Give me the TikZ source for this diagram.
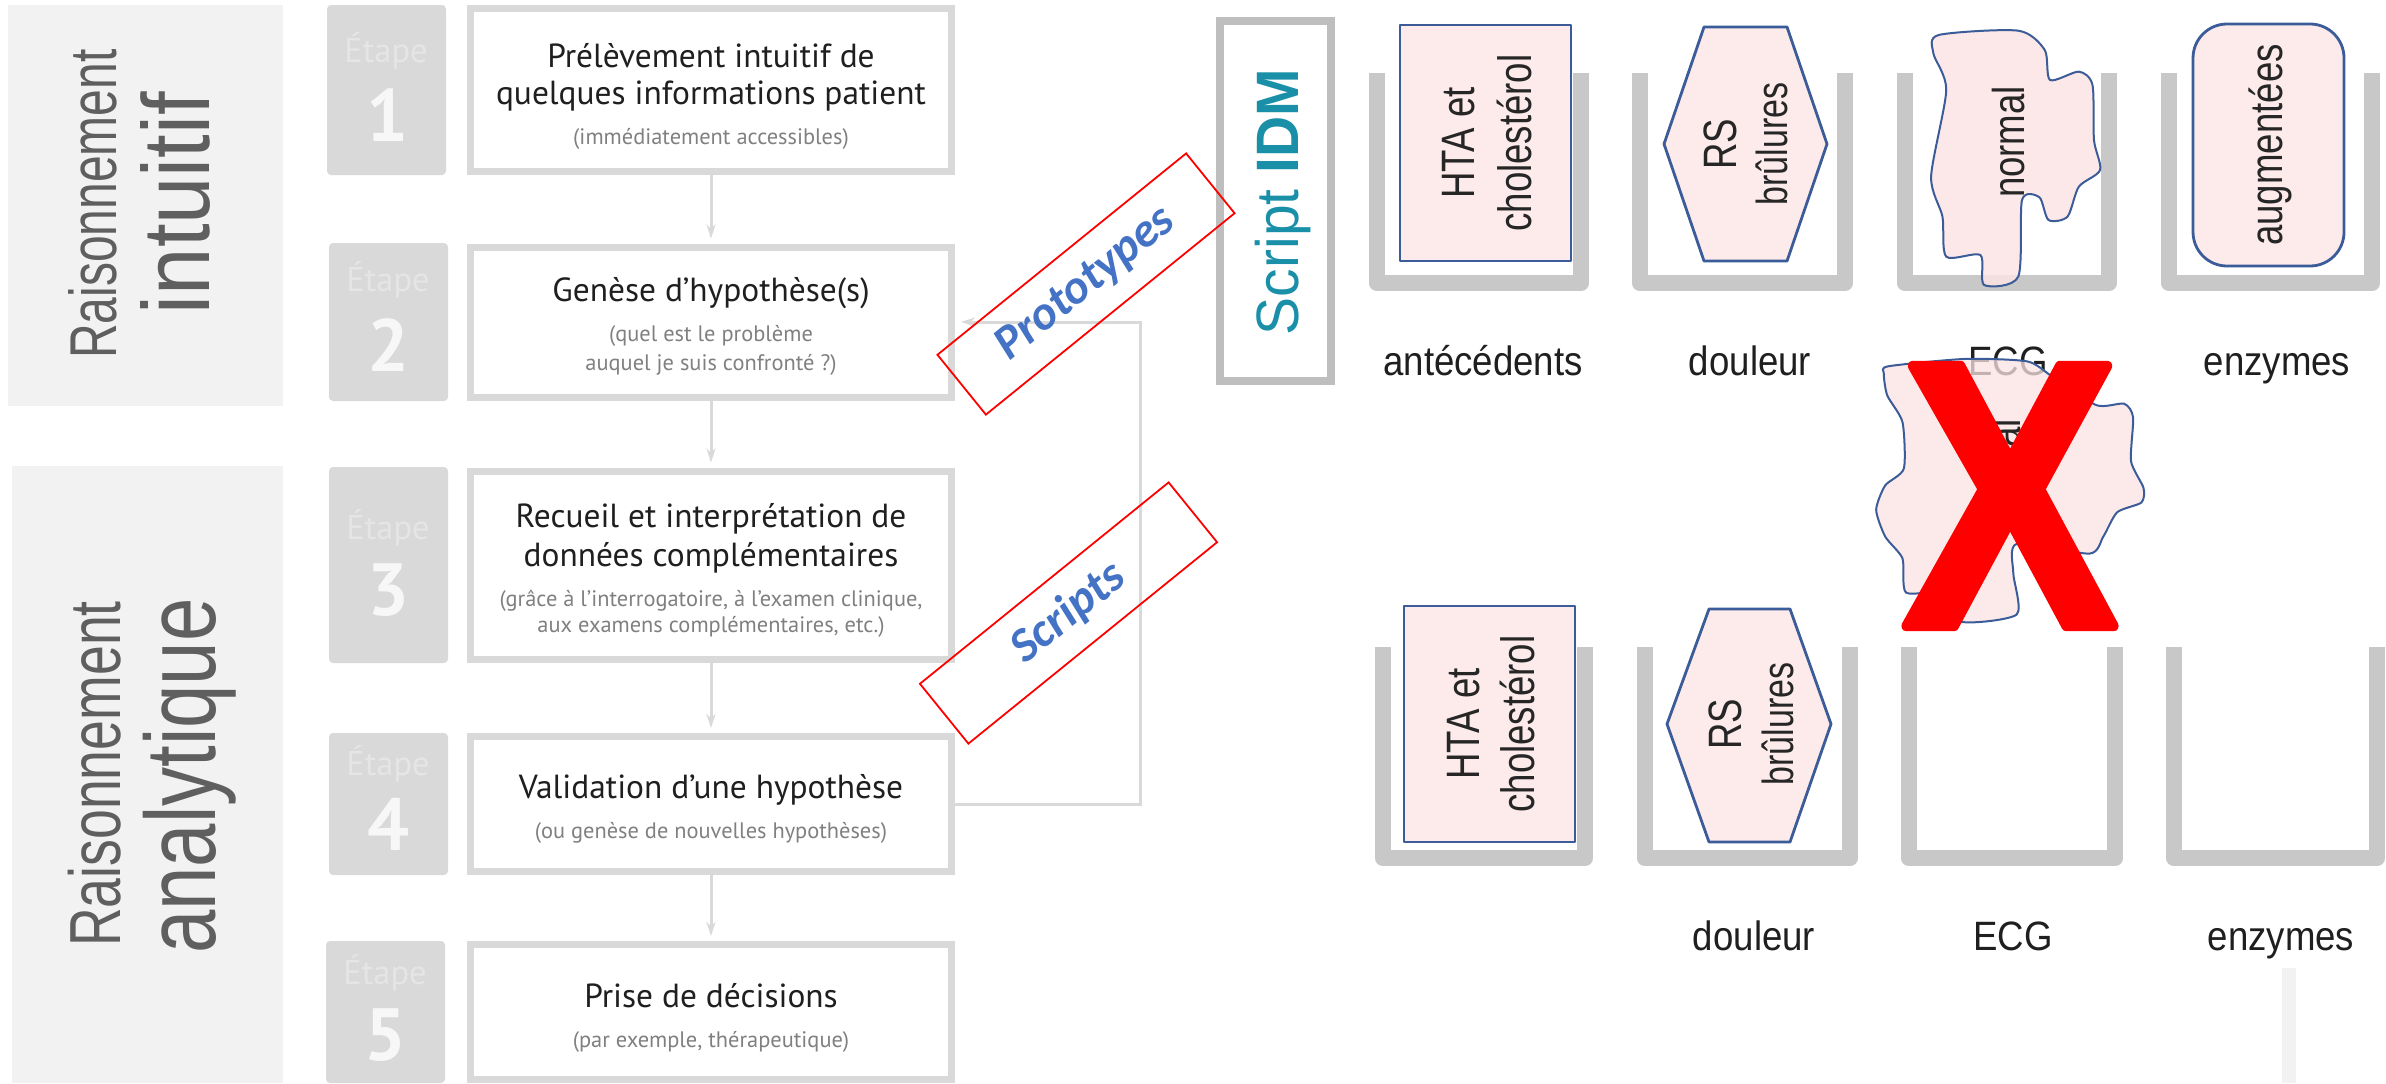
\documentclass[tikz,border=0pt]{standalone}
\usepackage{graphicx}
\usepackage{fontspec}
\setmainfont{Liberation Sans}
\newfontfamily\ptf{PT Sans}
\newfontfamily\carl{Carlito}
\newcommand{\sy}[2]{\scalebox{1}[#1]{#2}}
\definecolor{boxgray}{HTML}{D9D9D9}
\definecolor{binGray}{HTML}{C8C8C8}
\definecolor{cardfill}{HTML}{FDEBEB}
\definecolor{blobfill}{HTML}{FCE4E4}
\definecolor{cardline}{HTML}{3B5C98}
\definecolor{teal1}{HTML}{1A8FA8}
\definecolor{panel}{HTML}{F2F2F2}
\definecolor{lightt}{HTML}{5F5F5F}
\definecolor{blue1}{HTML}{4472C4}
\usetikzlibrary{arrows.meta}
\tikzset{
  px/.style={x=0.5pt,y=-0.5pt},
  panelbox/.style={fill=panel,draw=none},
  badge/.style={fill=boxgray,draw=none,rounded corners=2pt},
  stepbox/.style={shape=rectangle,draw=boxgray,fill=white,line width=3.5pt,inner sep=0pt,minimum width=240.5pt},
  etape/.style={anchor=base,inner sep=0pt,text=white!90!black,font=\ptf\fontsize{17.2}{17.2}\selectfont},
  digit/.style={anchor=base,inner sep=0pt,text=white!97!black,font=\ptf\bfseries\fontsize{37}{37}\selectfont},
  mainline/.style={anchor=base,inner sep=0pt,text=black!88,font=\ptf\fontsize{16.7}{16.7}\selectfont},
  subline/.style={anchor=base,inner sep=0pt,text=black!50,font=\ptf\fontsize{11.2}{11.2}\selectfont},
  conn/.style={draw=boxgray,line width=1.5pt,-{Stealth[length=7pt,width=4.5pt]},shorten >=2.5pt},
  redbox/.style={shape=rectangle,draw=red,line width=0.9pt,rotate=39,inner sep=0pt,minimum width=160pt,minimum height=38.5pt,text=blue1,font=\carl\bfseries\itshape\fontsize{24}{24}\selectfont},
  bin/.style={draw=binGray,line width=8.3pt,line join=round},
  card/.style={draw=cardline,fill=cardfill,line width=1.4pt,line join=round},
  blob/.style={draw=cardline,fill=blobfill,fill opacity=0.75,line width=1pt},
  vlab/.style={anchor=base,rotate=90,inner sep=0pt,text=black!85,font=\fontsize{18.3}{18.3}\selectfont},
  hlab/.style={anchor=base,inner sep=0pt,text=black!88,font=\fontsize{18.3}{18.3}\selectfont},
  sidet/.style={anchor=base,rotate=90,inner sep=0pt,text=lightt},
}
\begin{document}
\begin{tikzpicture}[px]
\useasboundingbox (0,0) rectangle (2386,1083);
\fill[white] (0,0) rectangle (2386,1083);
% side panels
\fill[panelbox] (8,5) rectangle (283,406);
\fill[panelbox] (12,466) rectangle (283,1083);
\node[sidet,font=\fontsize{24}{24}\selectfont] (raisA) at (116,204) {\sy{1.38}{Raisonnement}};
\node[sidet,font=\fontsize{42.5}{42.5}\selectfont] (intu) at (209,203) {\sy{1.12}{intuitif}};
\node[sidet,font=\fontsize{26.8}{26.8}\selectfont] (raisB) at (120,774) {\sy{1.35}{Raisonnement}};
\node[sidet,font=\fontsize{39}{39}\selectfont] (analy) at (215,776) {\sy{1.28}{analytique}};
% badges
\fill[badge] (327,5) rectangle (446,175);
\fill[badge] (329,243) rectangle (448,401);
\fill[badge] (329,467) rectangle (448,663);
\fill[badge] (329,733) rectangle (448,875);
\fill[badge] (326,941) rectangle (445,1083);
\node[etape] (e1) at (386,62) {Étape};
\node[digit] (d1) at (387,141) {1};
\node[etape] (e2) at (388,291) {Étape};
\node[digit] (d2) at (388,371) {2};
\node[etape] (e3) at (388,539) {Étape};
\node[digit] (d3) at (388,615) {3};
\node[etape] (e4) at (388,775) {Étape};
\node[digit] (d4) at (388,850) {4};
\node[etape] (e5) at (385,984) {Étape};
\node[digit] (d5) at (385,1060) {5};
% step boxes
\node[stepbox,minimum height=81.5pt] (b1) at (711,90) {};
\node[stepbox,minimum height=75pt] (b2) at (711,322) {};
\node[stepbox,minimum height=94pt] (b3) at (711,565) {};
\node[stepbox,minimum height=67.5pt] (b4) at (711,804) {};
\node[stepbox,minimum height=67.5pt] (b5) at (711,1012) {};
\draw[conn] (b1) -- (b2);
\draw[conn] (b2) -- (b3);
\draw[conn] (b3) -- (b4);
\draw[conn] (b4) -- (b5);
\coordinate (fb) at (1140,322);
\draw[conn,shorten >=3pt] (b4.east) -| (fb) -- (b2.east);
% box texts
\node[mainline] (t1a) at (711,67) {Prélèvement intuitif de};
\node[mainline] (t1b) at (711,104) {quelques informations patient};
\node[subline] (t1c) at (711,144) {(immédiatement accessibles)};
\node[mainline] (t2a) at (711,301) {Genèse d’hypothèse(s)};
\node[subline] (t2b) at (711,341) {(quel est le problème};
\node[subline] (t2c) at (711,370) {auquel je suis confronté ?)};
\node[mainline] (t3a) at (711,527) {Recueil et interprétation de};
\node[mainline] (t3b) at (711,566) {données complémentaires};
\node[subline] (t3c) at (711,606) {(grâce à l’interrogatoire, à l’examen clinique,};
\node[subline] (t3d) at (711,632) {aux examens complémentaires, etc.)};
\node[mainline] (t4a) at (711,798) {Validation d’une hypothèse};
\node[subline] (t4b) at (711,838) {(ou genèse de nouvelles hypothèses)};
\node[mainline] (t5a) at (711,1007) {Prise de décisions};
\node[subline] (t5b) at (711,1047) {(par exemple, thérapeutique)};
% script box
\node[shape=rectangle,draw=binGray!95!black,fill=white,line width=4pt,inner sep=0pt,minimum width=55.5pt,minimum height=180pt] (sbox) at (1275.5,201) {};
\node[anchor=base,rotate=90,inner sep=0pt,text=teal1,font=\fontsize{28.5}{28.5}\selectfont] (stitle) at (1298,202) {\sy{1.05}{Script \textbf{IDM}}};
% red boxes
\node[redbox] (proto) at (1086,284) {Prototypes};
\node[redbox] (scr) at (1068.5,613) {Scripts};
% bins top
\draw[bin] (1377,73) -- (1377,283) -- (1581,283) -- (1581,73);
\draw[bin] (1640,73) -- (1640,283) -- (1845,283) -- (1845,73);
\draw[bin] (1905,73) -- (1905,283) -- (2109,283) -- (2109,73);
\draw[bin] (2169,73) -- (2169,283) -- (2372,283) -- (2372,73);
% bins bottom
\draw[bin] (1383,647) -- (1383,858) -- (1585,858) -- (1585,647);
\draw[bin] (1645,647) -- (1645,858) -- (1850,858) -- (1850,647);
\draw[bin] (1909,647) -- (1909,858) -- (2115,858) -- (2115,647);
\draw[bin] (2174,647) -- (2174,858) -- (2377,858) -- (2377,647);
% labels
\node[hlab] (l1) at (1483,375) {\sy{1.12}{antécédents}};
\node[hlab] (l2) at (1750,375) {\sy{1.12}{douleur}};
\node[hlab] (l3) at (2008,375) {\sy{1.12}{ECG}};
\node[hlab] (l4) at (2277,375) {\sy{1.12}{enzymes}};
\node[hlab] (m2) at (1754,950) {\sy{1.12}{douleur}};
\node[hlab] (m3) at (2013,950) {\sy{1.12}{ECG}};
\node[hlab] (m4) at (2281,950) {\sy{1.12}{enzymes}};
\fill[panel] (2282,968) rectangle (2296,1083);
% top cards
\draw[card] (1400,25) rectangle (1571,261);
\node[vlab] (c1a) at (1474,143) {\sy{1.28}{HTA et}};
\node[vlab] (c1b) at (1531,143) {\sy{1.28}{cholestérol}};
\draw[card] (1704,27) -- (1787,27) -- (1827,144) -- (1787,261) -- (1704,261) -- (1664,144) -- cycle;
\node[vlab] (c2a) at (1736,144) {\sy{1.28}{RS}};
\node[vlab,font=\fontsize{17}{17}\selectfont] (c2b) at (1787,144) {\sy{1.28}{brûlures}};
\begin{scope}[shift={(1200,0)},x=0.3788pt,y=-0.16667pt]
\draw[blob,fill opacity=0.85] plot[smooth cycle,tension=0.45] coordinates {(975,105)(1080,92)(1115,150)(1122,240)(1160,215)(1178,255)(1180,420)(1188,510)(1160,560)(1145,650)(1120,660)(1108,592)(1085,600)(1080,830)(1035,855)(1030,765)(985,770)(980,650)(965,530)(985,270)(968,160)};
\end{scope}
\node[vlab] (c3) at (2024,142) {\sy{1.22}{normal}};
\draw[card,rounded corners=17pt] (2193,24) rectangle (2344,266);
\node[vlab] (c4) at (2282,145) {\sy{1.25}{augmentées}};
% bottom cards
\draw[card] (1404,606) rectangle (1575,842);
\node[vlab] (f1a) at (1479,724) {\sy{1.28}{HTA et}};
\node[vlab] (f1b) at (1534,724) {\sy{1.28}{cholestérol}};
\draw[card] (1709,609) -- (1790,609) -- (1831,724) -- (1790,842) -- (1709,842) -- (1667,724) -- cycle;
\node[vlab] (f2a) at (1741,724) {\sy{1.28}{RS}};
\node[vlab,font=\fontsize{17}{17}\selectfont] (f2b) at (1793,724) {\sy{1.28}{brûlures}};
% fallen blob
\begin{scope}[shift={(1300,320)},x=0.34626pt,y=-0.24331pt]
\draw[blob] plot[smooth cycle,tension=0.4] coordinates {(850,95)(960,80)(1050,85)(1085,115)(1150,175)(1190,172)(1203,200)(1200,290)(1218,345)(1215,375)(1180,395)(1160,445)(1140,480)(1035,460)(1030,520)(1035,605)(955,620)(930,560)(875,560)(870,490)(845,445)(832,390)(845,340)(872,305)(870,210)(848,155)(843,110)};
\end{scope}
\node[vlab] (c5) at (2020,475) {\sy{1.22}{normal}};
% red cross
\node[anchor=base,inner sep=0pt,text=red,font=\bfseries\fontsize{189}{189}\selectfont] (cross) at (2010,626) {\special{pdf:code q 2 Tr 1 j 1 J 1 0 0 RG 5 w}\scalebox{0.85}[1]{X}\special{pdf:code Q}};
\end{tikzpicture}
\end{document}
